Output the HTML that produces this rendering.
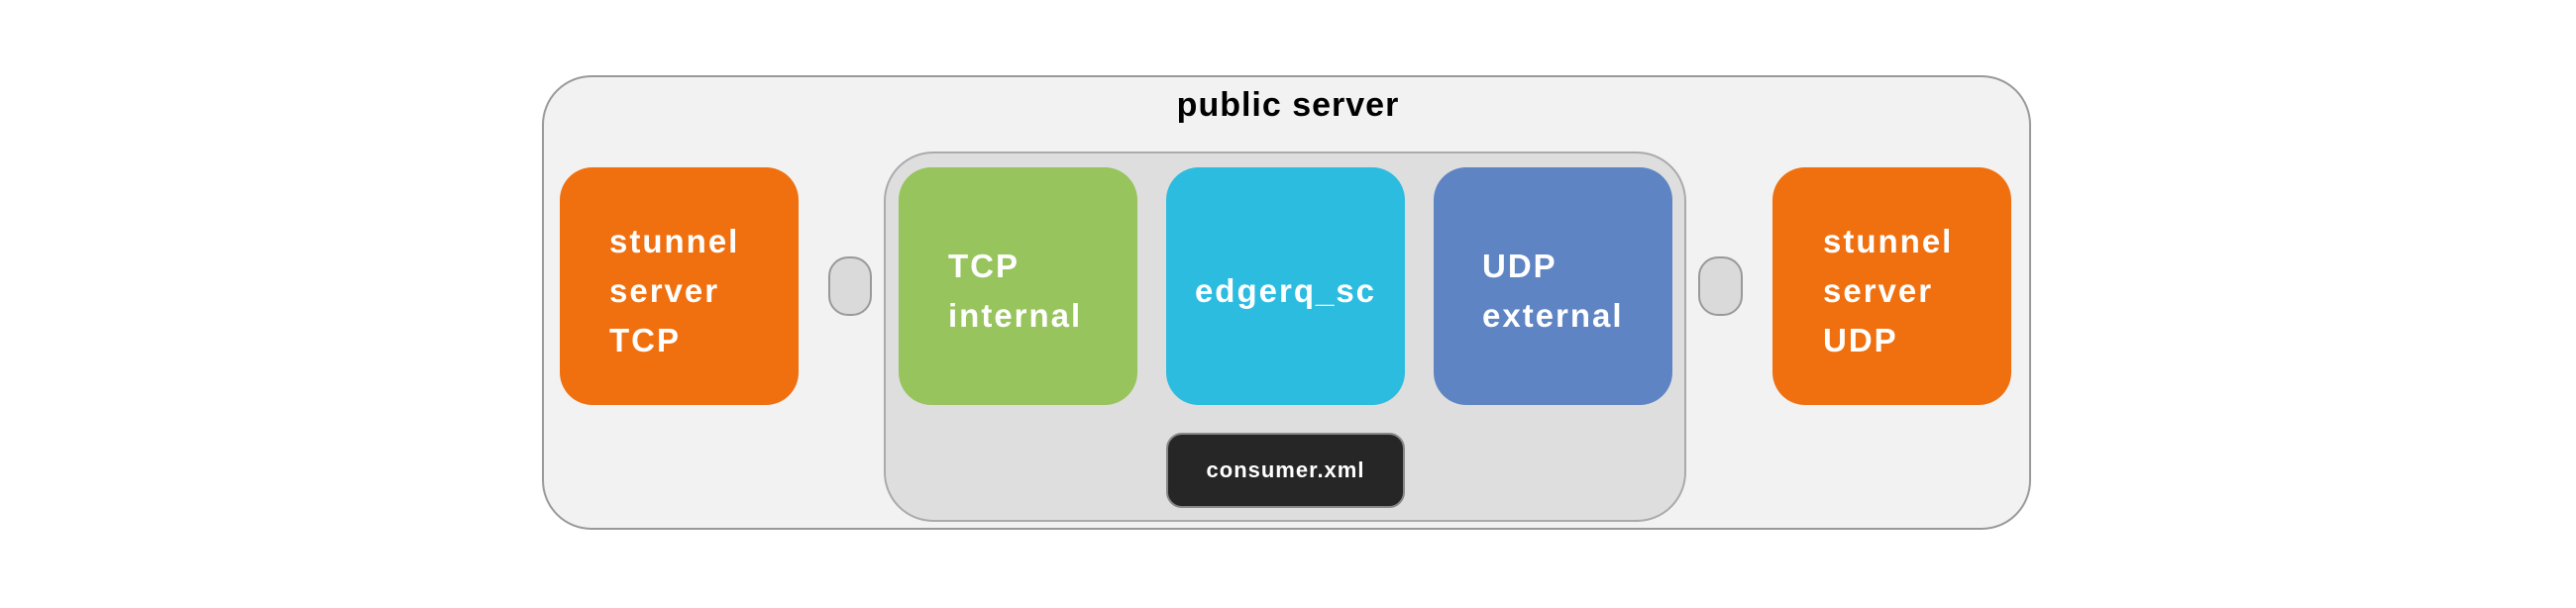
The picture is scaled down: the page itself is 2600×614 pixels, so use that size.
<!DOCTYPE html>
<html><head><meta charset="utf-8"><style>
body{margin:0;width:2600px;height:614px;background:#fff;position:relative;overflow:hidden;font-family:"Liberation Sans","DejaVu Sans",sans-serif;font-weight:bold}
div{position:absolute;box-sizing:border-box}
.o{background:#f2f2f2;border:2px solid #999;}
.n{color:#fff;font-size:33px;line-height:50px;letter-spacing:2px}
.c{background:#dadada;border:2px solid #999;border-radius:20px}
</style></head><body>
<div class="o" style="left:547px;top:76px;width:1503px;height:459px;border-radius:50px"></div>
<div style="left:1100px;top:87px;width:400px;text-align:center;font-size:34px;color:#000;letter-spacing:1px">public server</div>
<div style="left:892px;top:153px;width:810px;height:374px;background:#dedede;border:2px solid #aaa;border-radius:50px"></div>
<div class="n" style="left:565px;top:169px;width:241px;height:240px;background:#f07010;border-radius:33px;padding:50px 0 0 50px">stunnel<br>server<br>TCP</div>
<div class="c" style="left:836px;top:259px;width:44px;height:60px"></div>
<div class="n" style="left:907px;top:169px;width:241px;height:240px;background:#97c45c;border-radius:33px;padding:75px 0 0 50px">TCP<br>internal</div>
<div class="n" style="left:1177px;top:169px;width:241px;height:240px;background:#2bbce0;border-radius:33px;padding-top:100px;text-align:center">edgerq_sc</div>
<div class="n" style="left:1447px;top:169px;width:241px;height:240px;background:#5f84c4;border-radius:33px;padding:75px 0 0 49px">UDP<br>external</div>
<div class="c" style="left:1714px;top:259px;width:45px;height:60px"></div>
<div class="n" style="left:1789px;top:169px;width:241px;height:240px;background:#f07010;border-radius:33px;padding:50px 0 0 51px">stunnel<br>server<br>UDP</div>
<div style="left:1177px;top:437px;width:241px;height:76px;background:#262626;border:2px solid #888;border-radius:16px;color:#fff;font-size:22px;line-height:72px;text-align:center;letter-spacing:1px">consumer.xml</div>
</body></html>
